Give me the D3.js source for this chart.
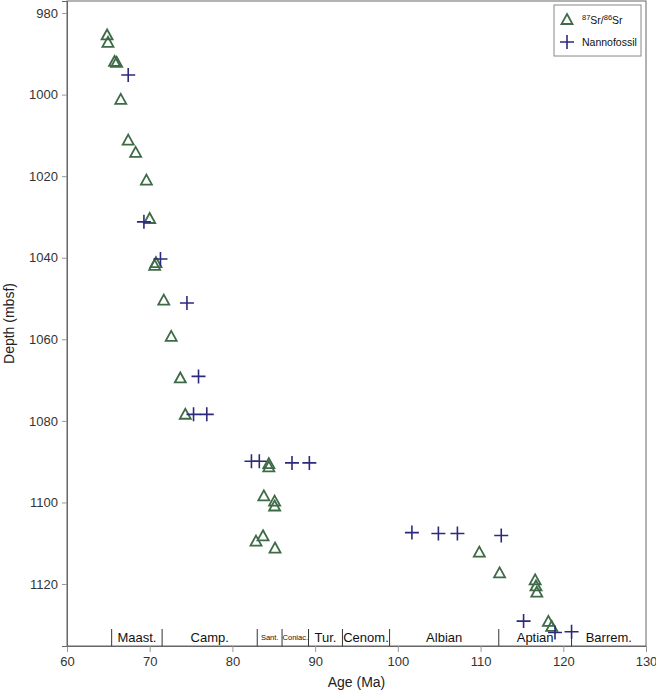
<!DOCTYPE html>
<html>
<head>
<meta charset="utf-8">
<script src="https://cdn.jsdelivr.net/npm/d3@7"></script>
<style>
  html, body { margin: 0; padding: 0; background: #fff; }
  svg { display: block; font-family: "Liberation Sans", Arial, Helvetica, sans-serif; }
</style>
</head>
<body>
<svg id="chart" width="656" height="690"></svg>
<script>
// ---- data ----
const srAge = [64.85, 64.95, 65.75, 66.0, 66.5, 67.4, 68.3, 69.6, 70.0, 70.75, 70.6, 71.7, 72.6, 73.7, 74.3,
               84.4, 84.4, 83.8, 85.1, 85.1, 82.85, 83.7, 85.15, 109.85, 112.3, 116.6, 116.7, 116.8, 118.2, 118.6];
const srDepth = [985.5, 987.3, 992.0, 992.2, 1001.3, 1011.3, 1014.3, 1021.1, 1030.5, 1041.3, 1042.0, 1050.5, 1059.4, 1069.6, 1078.5,
                 1090.6, 1091.4, 1098.5, 1099.8, 1101.0, 1109.6, 1108.3, 1111.3, 1112.3, 1117.4, 1119.1, 1120.6, 1122.1, 1129.3, 1130.5];
const nanoAge = [67.4, 69.3, 71.3, 74.5, 75.9, 75.3, 76.9, 82.3, 83.25, 87.2, 89.3, 101.7, 104.9, 107.2, 112.5, 115.2, 119.0, 121.0];
const nanoDepth = [995.2, 1031.2, 1040.3, 1051.1, 1069.1, 1078.4, 1078.4, 1089.9, 1089.9, 1090.3, 1090.3,
                   1107.4, 1107.6, 1107.6, 1108.1, 1129.1, 1131.9, 1131.7];
const stageNames = ["Maast.", "Camp.", "Sant.", "Coniac.", "Tur.", "Cenom.", "Albian", "Aptian", "Barrem."];
const stageStart = [65.4, 71.5, 83.0, 86.0, 89.2, 93.3, 99.0, 112.2, 121.0];
const stageEnd   = [71.5, 83.0, 86.0, 89.2, 93.3, 99.0, 112.2, 121.0, 130.0];
const stageSmall = [false, false, true, true, false, false, false, false, false];
const xTicks = [60, 70, 80, 90, 100, 110, 120, 130];
const yTicks = [980, 1000, 1020, 1040, 1060, 1080, 1100, 1120];
const legendLabels = ["Sr", "Nannofossil"];

// ---- layout ----
const L = 67, R = 646, T = 1, B = 646;
const svg = d3.select("#chart");
const x = d3.scaleLinear().domain([60, 130]).range([L, R]);
const y = d3.scaleLinear().domain([977.05, 1135.2]).range([T, B]);

const greenC = "#3e6b47";
const navyC = "#2c2a7c";

// frame
svg.append("rect").attr("x", L).attr("y", T).attr("width", R - L).attr("height", B - T)
  .attr("fill", "none").attr("stroke", "#666").attr("stroke-width", 1);

// axes
const xAxis = svg.append("g").attr("transform", `translate(0,${B})`)
  .call(d3.axisBottom(x).tickValues(xTicks).tickSize(6).tickPadding(5).tickFormat(d3.format("d")));
const yAxis = svg.append("g").attr("transform", `translate(${L},0)`)
  .call(d3.axisLeft(y).tickValues(yTicks).tickSize(5).tickPadding(4).tickFormat(d3.format("d")));
[xAxis, yAxis].forEach(g => {
  g.select(".domain").attr("stroke", "#666");
  g.selectAll(".tick line").attr("stroke", "#999");
  g.selectAll(".tick text").attr("fill", "#333").style("font-size", "13px")
    .style("font-family", "'Liberation Sans', Arial, sans-serif");
});

// axis titles
svg.append("text").attr("x", (L + R) / 2).attr("y", 687).attr("text-anchor", "middle")
  .style("font-size", "14px").attr("fill", "#222").text("Age (Ma)");
svg.append("text").attr("transform", `translate(14,${(T + B) / 2}) rotate(-90)`)
  .attr("text-anchor", "middle").style("font-size", "14px").attr("fill", "#222").text("Depth (mbsf)");

// stage band
const bandTop = 629;
svg.append("g").selectAll("line").data(stageStart).join("line")
  .attr("x1", d => x(d)).attr("x2", d => x(d))
  .attr("y1", bandTop).attr("y2", B)
  .attr("stroke", "#333").attr("stroke-width", 1);
svg.append("g").selectAll("text").data(stageNames).join("text")
  .attr("x", (d, i) => x((stageStart[i] + stageEnd[i]) / 2))
  .attr("y", (d, i) => stageSmall[i] ? 640 : 642)
  .attr("text-anchor", "middle")
  .style("font-size", (d, i) => stageSmall[i] ? "7.5px" : "13px")
  .attr("fill", "#111")
  .text(d => d);

// markers
const triPath = (cx, cy, w, h) =>
  `M${cx},${cy - h * 0.6}L${cx + w / 2},${cy + h * 0.4}L${cx - w / 2},${cy + h * 0.4}Z`;
const plusPath = (cx, cy, s) =>
  `M${cx - s / 2},${cy}L${cx + s / 2},${cy}M${cx},${cy - s / 2}L${cx},${cy + s / 2}`;

svg.append("g").selectAll("path").data(srAge).join("path")
  .attr("d", (d, i) => triPath(x(d), y(srDepth[i]), 11, 10))
  .attr("fill", "none").attr("stroke", greenC).attr("stroke-width", 1.8).attr("stroke-linejoin", "miter");

svg.append("g").selectAll("path").data(nanoAge).join("path")
  .attr("d", (d, i) => plusPath(x(d), y(nanoDepth[i]), 14))
  .attr("fill", "none").attr("stroke", navyC).attr("stroke-width", 1.6);

// legend
const lg = svg.append("g");
lg.append("rect").attr("x", 554).attr("y", 5).attr("width", 87).attr("height", 51)
  .attr("fill", "#fff").attr("stroke", "#888").attr("stroke-width", 1);
lg.append("path").attr("d", triPath(567, 20, 11, 10))
  .attr("fill", "none").attr("stroke", greenC).attr("stroke-width", 1.8);
lg.append("path").attr("d", plusPath(567, 42, 14))
  .attr("fill", "none").attr("stroke", navyC).attr("stroke-width", 1.6);
const t1 = lg.append("text").attr("x", 582).attr("y", 24).style("font-size", "10.5px").attr("fill", "#111");
t1.append("tspan").attr("dy", "-4").style("font-size", "7.5px").text("87");
t1.append("tspan").attr("dy", "4").text(legendLabels[0] + "/");
t1.append("tspan").attr("dy", "-4").style("font-size", "7.5px").text("86");
t1.append("tspan").attr("dy", "4").text(legendLabels[0]);
lg.append("text").attr("x", 582).attr("y", 46).style("font-size", "10.5px").attr("fill", "#111").text(legendLabels[1]);
</script>
</body>
</html>
